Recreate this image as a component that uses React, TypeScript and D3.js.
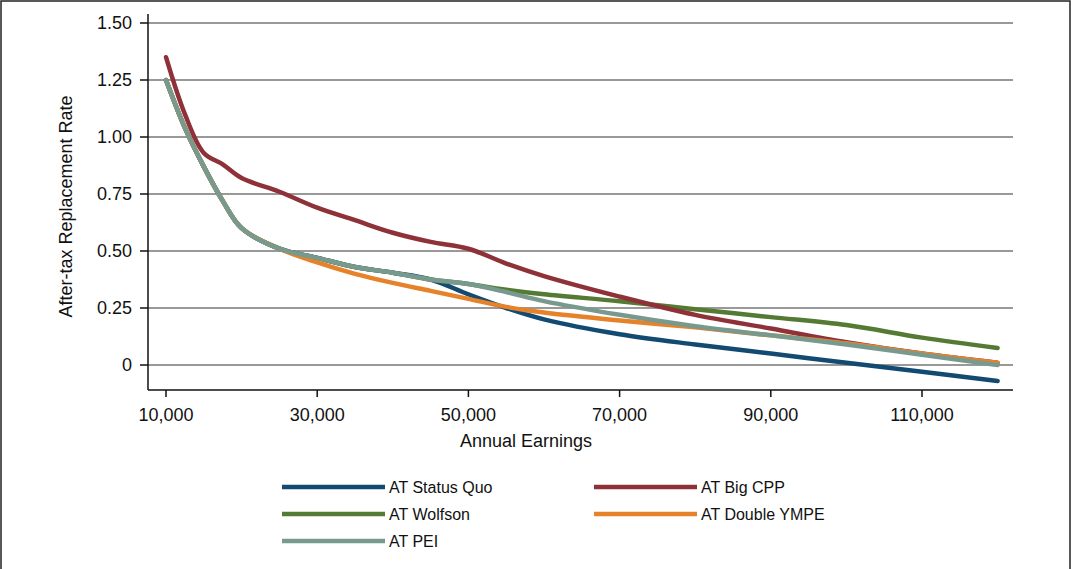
import * as d3 from "d3";
import React from "react";

const earnings = [10000, 12500, 15000, 17500, 20000, 25000, 30000, 35000, 40000, 45000, 50000, 55000, 60000, 70000, 80000, 90000, 100000, 110000, 120000];

const statusQuo = [1.25, 1.04, 0.87, 0.72, 0.6, 0.51, 0.47, 0.43, 0.405, 0.375, 0.31, 0.25, 0.2, 0.135, 0.09, 0.05, 0.01, -0.03, -0.07];
const bigCpp = [1.35, 1.1, 0.93, 0.88, 0.82, 0.76, 0.69, 0.635, 0.58, 0.54, 0.51, 0.445, 0.39, 0.3, 0.22, 0.16, 0.1, 0.05, 0.01];
const wolfson = [1.25, 1.04, 0.87, 0.72, 0.6, 0.51, 0.47, 0.43, 0.405, 0.375, 0.355, 0.33, 0.31, 0.28, 0.245, 0.21, 0.175, 0.12, 0.075];
const doubleYmpe = [1.25, 1.04, 0.87, 0.72, 0.6, 0.51, 0.45, 0.4, 0.36, 0.325, 0.29, 0.255, 0.23, 0.195, 0.165, 0.13, 0.095, 0.05, 0.01];
const pei = [1.25, 1.04, 0.87, 0.72, 0.6, 0.51, 0.47, 0.43, 0.405, 0.375, 0.355, 0.32, 0.28, 0.22, 0.17, 0.13, 0.09, 0.045, 0.0];

const series = [
  { name: "AT Status Quo", values: statusQuo, color: "#124a72" },
  { name: "AT Big CPP", values: bigCpp, color: "#8e3139" },
  { name: "AT Wolfson", values: wolfson, color: "#547a33" },
  { name: "AT Double YMPE", values: doubleYmpe, color: "#e6822a" },
  { name: "AT PEI", values: pei, color: "#789a8e" },
];
const drawOrder = [0, 2, 1, 3, 4];

const xTicks = [10000, 30000, 50000, 70000, 90000, 110000];
const yTicks = [0, 0.25, 0.5, 0.75, 1.0, 1.25, 1.5];

const W = 1071;
const H = 569;
const x = d3.scaleLinear().domain([10000, 110000]).range([166, 922]);
const y = d3.scaleLinear().domain([0, 1.5]).range([365, 23]);
const plotLeft = 148;
const plotRight = 1013;
const plotBottom = 390;
const font = "'Liberation Sans', Arial, sans-serif";

export default function App() {
  const fmt = d3.format(",d");
  const line = (vals: number[]) =>
    d3.line<number>().x((_, i) => x(earnings[i])).y((v) => y(v)).curve(d3.curveCatmullRom.alpha(0.5))(vals) || "";
  return (
    <svg width={W} height={H} style={{ display: "block", position: "absolute", left: 0, top: 0 }} fontFamily={font}>
      <rect x={1} y={1} width={W - 2} height={H + 5} fill="white" stroke="#222" strokeWidth={1.5} />
      {yTicks.map((t) => (
        <g key={t}>
          <line x1={plotLeft} x2={plotRight} y1={y(t)} y2={y(t)} stroke="#999" strokeWidth={2} />
          <line x1={plotLeft - 8} x2={plotLeft} y1={y(t)} y2={y(t)} stroke="#111" strokeWidth={1.5} />
          <text x={plotLeft - 16} y={y(t)} dy="0.35em" textAnchor="end" fontSize={18} fill="#111">
            {t === 0 ? "0" : t.toFixed(2)}
          </text>
        </g>
      ))}
      <line x1={plotLeft} x2={plotLeft} y1={14} y2={plotBottom} stroke="#111" strokeWidth={1.5} />
      <line x1={plotLeft} x2={plotRight} y1={plotBottom} y2={plotBottom} stroke="#111" strokeWidth={1.5} />
      {xTicks.map((t) => (
        <g key={t}>
          <line x1={x(t)} x2={x(t)} y1={plotBottom} y2={plotBottom + 7} stroke="#111" strokeWidth={1.5} />
          <text x={x(t)} y={plotBottom + 31} textAnchor="middle" fontSize={18} fill="#111">{fmt(t)}</text>
        </g>
      ))}
      <text x={526} y={447} textAnchor="middle" fontSize={18} fill="#111">Annual Earnings</text>
      <text transform={`translate(72,${(y(1.5) + plotBottom) / 2}) rotate(-90)`} textAnchor="middle" fontSize={18} fill="#111">
        After-tax Replacement Rate
      </text>
      {drawOrder.map((i) => (
        <path key={i} d={line(series[i].values)} fill="none" stroke={series[i].color} strokeWidth={4.5} strokeLinecap="round" />
      ))}
      {series.map((s, i) => {
        const lx = i % 2 === 0 ? 282 : 594;
        const ly = 487 + Math.floor(i / 2) * 27;
        return (
          <g key={s.name}>
            <line x1={lx} x2={lx + 103} y1={ly} y2={ly} stroke={s.color} strokeWidth={4.5} />
            <text x={lx + 107} y={ly} dy="0.35em" fontSize={16} fill="#111">{s.name}</text>
          </g>
        );
      })}
    </svg>
  );
}
